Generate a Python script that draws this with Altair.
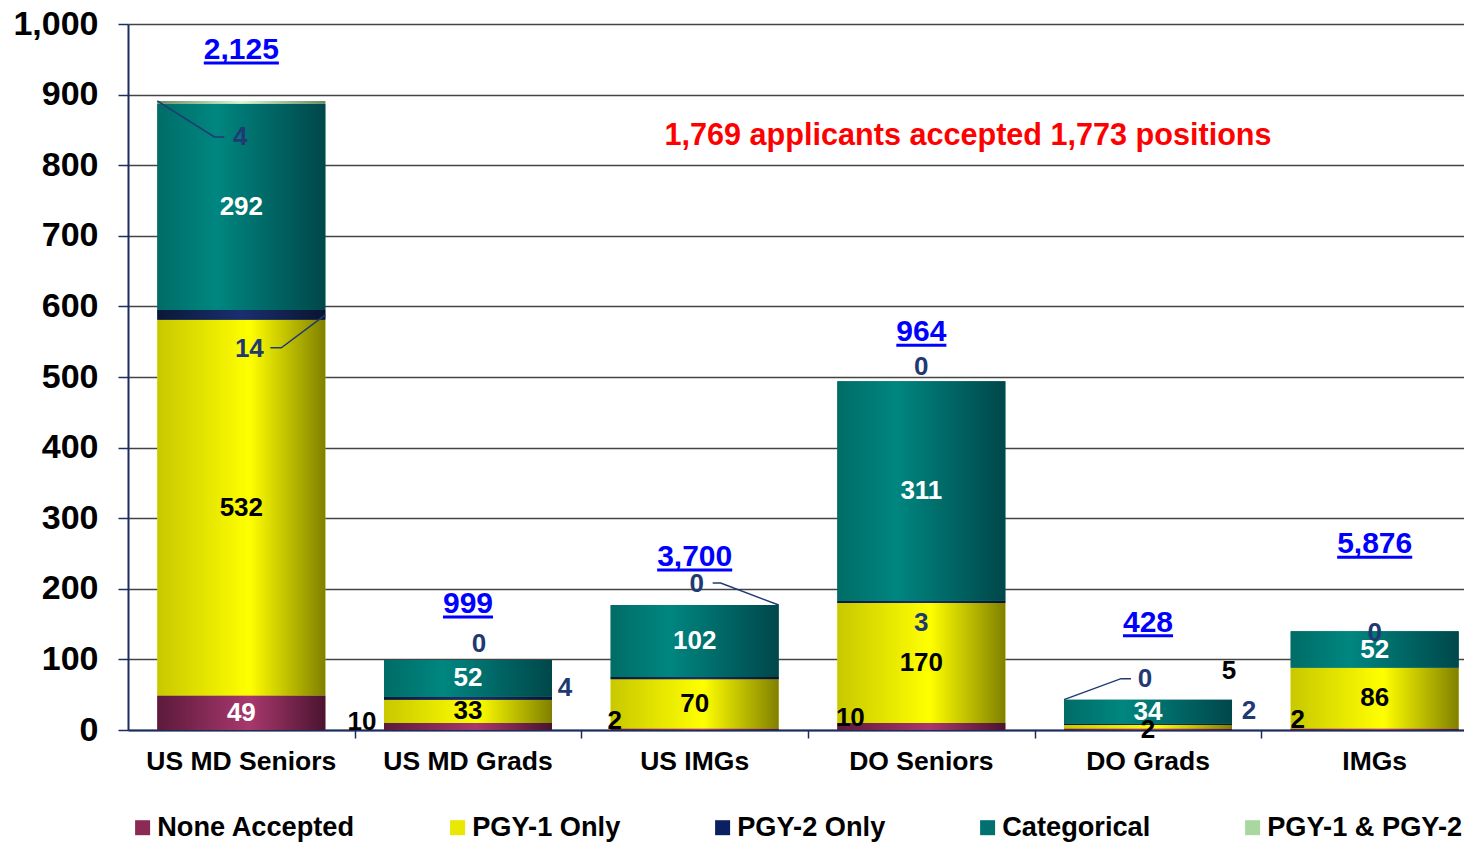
import altair as alt
import pandas as pd

# ---------------- data ----------------
categories = ["US MD Seniors", "US MD Grads", "US IMGs", "DO Seniors", "DO Grads", "IMGs"]
series = ["None Accepted", "PGY-1 Only", "PGY-2 Only", "Categorical", "PGY-1 & PGY-2"]
none_accepted = [49, 10, 2, 10, 2, 2]
pgy1_only = [532, 33, 70, 170, 5, 86]
pgy2_only = [14, 4, 3, 3, 2, 0]
categorical = [292, 52, 102, 311, 34, 52]
pgy1_pgy2 = [4, 0, 0, 0, 0, 0]
applicants = ["2,125", "999", "3,700", "964", "428", "5,876"]
show_none = [True, True, True, True, True, True]
show_pgy1 = [True, True, True, True, True, True]
show_pgy2 = [True, True, False, True, True, False]
show_cat = [True, True, True, True, True, True]
show_both = [True, True, True, True, True, True]
annotation = "1,769 applicants accepted 1,773 positions"

# ---------------- style ----------------
FONT = "Liberation Sans, Arial, Helvetica, sans-serif"
WIDTH, HEIGHT = 1336, 706
STEP_PX = 226.67
XMAX = WIDTH / STEP_PX
YMAX = 1000
PPY = HEIGHT / YMAX
HALF = 84 / STEP_PX
NAVY = "#1a2c60"
NAVY_TXT = "#1f3a73"

flat_colors = ["#8b2a55", "#e8e800", "#0a2060", "#007070", "#a8d8a0"]
grad_stops = [
    [("#5c1a3c", 0), ("#a8386c", 0.55), ("#4a1430", 1)],
    [("#c8c800", 0), ("#ffff00", 0.55), ("#808000", 1)],
    [("#0a1838", 0), ("#1a2f6e", 0.5), ("#0a1430", 1)],
    [("#006c66", 0), ("#008680", 0.35), ("#00474a", 1)],
    [("#6a8a60", 0), ("#d8f8d0", 0.5), ("#6a8a60", 1)],
]
series_text = ["black", "black", NAVY_TXT, "white", NAVY_TXT]
label_color_override = {(0, 0): "white"}
# label offsets in pixels (dx right, dy down) from segment centre
label_offsets = {
    (0, 2): (8, 34), (0, 4): (-1, 35),
    (1, 0): (-106, -4), (1, 2): (97, -10), (1, 4): (11, -16),
    (2, 0): (-80, -8), (2, 4): (2, -21),
    (3, 0): (-71, -8), (3, 2): (0, 21), (3, 4): (0, -14),
    (4, 0): (0, 1), (4, 1): (81, -56), (4, 2): (101, -13), (4, 4): (-3, -21),
    (5, 0): (-77, -9), (5, 4): (0, 2),
}
# gap (px) between bar top and baseline of the applicant totals
total_gaps = [42, 47, 39, 40, 68, 78]
# leader lines: (category, series, side, anchor, [(dx,dy) px ...])
leaders = [
    (0, 4, -1, "top", [(57, 36), (67, 36)]),
    (0, 2, 1, "mid", [(-44, 33), (-55, 33)]),
    (2, 4, 1, "top", [(-58, -22), (-66, -22)]),
    (4, 4, -1, "top", [(57, -21), (67, -21)]),
]
annot_pos = (3.706, 841)

series_values = [none_accepted, pgy1_only, pgy2_only, categorical, pgy1_pgy2]
show = [show_none, show_pgy1, show_pgy2, show_cat, show_both]

bar_rows, label_rows, total_rows, leader_rows = [], [], [], []
seg = {}
for i, cat in enumerate(categories):
    base = 0
    for s, name in enumerate(series):
        v = series_values[s][i]
        bar_rows.append(dict(category=cat, series=name, xl=i + 0.5 - HALF,
                             xr=i + 0.5 + HALF, y0=base, y1=base + v))
        seg[(i, s)] = (base, base + v)
        if show[s][i]:
            dx, dy = label_offsets.get((i, s), (0, 0))
            label_rows.append(dict(text=str(v), lx=i + 0.5 + dx / STEP_PX,
                                   ly=base + v / 2 - dy / PPY,
                                   tcolor=label_color_override.get((i, s), series_text[s])))
        base += v
    w = sum(0.278 if ch == "," else 0.556 for ch in applicants[i]) * 30
    total_rows.append(dict(text=applicants[i], lx=i + 0.5,
                           ly=base + total_gaps[i] / PPY,
                           uy=base + (total_gaps[i] - 4) / PPY, ulen=w))

for k, (i, s, side, anchor, pts) in enumerate(leaders):
    y0, y1 = seg[(i, s)]
    ay = y1 if anchor == "top" else (y0 + y1) / 2
    ax = i + 0.5 + side * HALF
    leader_rows.append(dict(lid=k, o=0, px=ax, py=ay))
    for j, (dx, dy) in enumerate(pts):
        leader_rows.append(dict(lid=k, o=j + 1, px=ax + dx / STEP_PX, py=ay - dy / PPY))

bars = pd.DataFrame(bar_rows)
labels = pd.DataFrame(label_rows)
totals = pd.DataFrame(total_rows)
leader_df = pd.DataFrame(leader_rows)
cat_df = pd.DataFrame(dict(category=categories, cx=[i + 0.5 for i in range(len(categories))], cy=[0] * len(categories)))
annot_df = pd.DataFrame(dict(text=[annotation], ax=[annot_pos[0]], ay=[annot_pos[1]]))

xscale = alt.Scale(domain=[0, XMAX], nice=False, zero=False)
yscale = alt.Scale(domain=[0, YMAX], nice=False)
xaxis = alt.Axis(values=[1, 2, 3, 4, 5], labels=False, grid=False, tickSize=8, tickColor=NAVY,
                 tickWidth=1.5, domainColor=NAVY, domainWidth=2, title=None)
yaxis = alt.Axis(values=list(range(0, 1001, 100)), labelExpr="format(datum.value, ',')",
                 labelFont=FONT, labelFontSize=34,
                 labelFontWeight="bold", labelColor="black", tickSize=10, tickColor=NAVY,
                 tickWidth=1.5, domainColor=NAVY, domainWidth=2, gridColor="#444",
                 gridWidth=1.5, labelPadding=20, title=None)


def X(field):
    return alt.X(field, scale=xscale, axis=xaxis, title=None)


def Y(field):
    return alt.Y(field, scale=yscale, axis=yaxis, title=None)


legend = alt.Legend(
    orient="none", legendX=1, legendY=790, direction="horizontal", columns=5,
    title=None, symbolType="square", symbolSize=225,
    symbolStrokeWidth=0, labelFont=FONT, labelFontSize=27.2, labelFontWeight="bold",
    labelColor="black", labelOffset=1, columnPadding=88, labelLimit=400, padding=0,
)

base = alt.Chart(bars).mark_bar().encode(
    x=X("xl:Q"), x2="xr:Q", y=Y("y0:Q"), y2="y1:Q",
    color=alt.Color("series:N", scale=alt.Scale(domain=series, range=flat_colors), legend=legend),
)

layers = [base]
for s, name in enumerate(series):
    grad = alt.Gradient(gradient="linear", x1=0, x2=1, y1=0, y2=0,
                        stops=[alt.GradientStop(color=c, offset=o) for c, o in grad_stops[s]])
    layers.append(
        alt.Chart(bars).transform_filter(alt.datum.series == name).mark_bar(fill=grad).encode(
            x=X("xl:Q"), x2="xr:Q", y=Y("y0:Q"), y2="y1:Q")
    )

layers.append(
    alt.Chart(leader_df).mark_line(color=NAVY_TXT, strokeWidth=1.5).encode(
        x=X("px:Q"), y=Y("py:Q"), detail="lid:N", order="o:Q")
)

for c in labels["tcolor"].unique():
    layers.append(
        alt.Chart(labels[labels["tcolor"] == c]).mark_text(
            font=FONT, fontSize=26, fontWeight="bold", color=c, baseline="middle", align="center"
        ).encode(x=X("lx:Q"), y=Y("ly:Q"), text="text:N")
    )

layers.append(
    alt.Chart(totals).mark_text(font=FONT, fontSize=30, fontWeight="bold", color="#0000ff",
                                baseline="alphabetic", align="center").encode(
        x=X("lx:Q"), y=Y("ly:Q"), text="text:N")
)
layers.append(
    alt.Chart(totals).mark_tick(orient="horizontal", thickness=3, color="#0000ff", opacity=1).encode(
        x=X("lx:Q"), y=Y("uy:Q"), size=alt.Size("ulen:Q", scale=None))
)
layers.append(
    alt.Chart(cat_df).mark_text(font=FONT, fontSize=26.5, fontWeight="bold", color="black",
                                baseline="middle", align="center", dy=32).encode(
        x=X("cx:Q"), y=Y("cy:Q"), text="category:N")
)
layers.append(
    alt.Chart(annot_df).mark_text(font=FONT, fontSize=30.6, fontWeight="bold", color="#ff0000",
                                  baseline="middle", align="center").encode(
        x=X("ax:Q"), y=Y("ay:Q"), text="text:N")
)

chart = alt.layer(*layers).properties(
    width=WIDTH, height=HEIGHT, autosize="none",
    padding={"left": 120, "top": 16, "right": 0, "bottom": 112},
).configure_view(stroke=None)

chart.save("out.html", embed_options={"renderer": "svg", "actions": False})
